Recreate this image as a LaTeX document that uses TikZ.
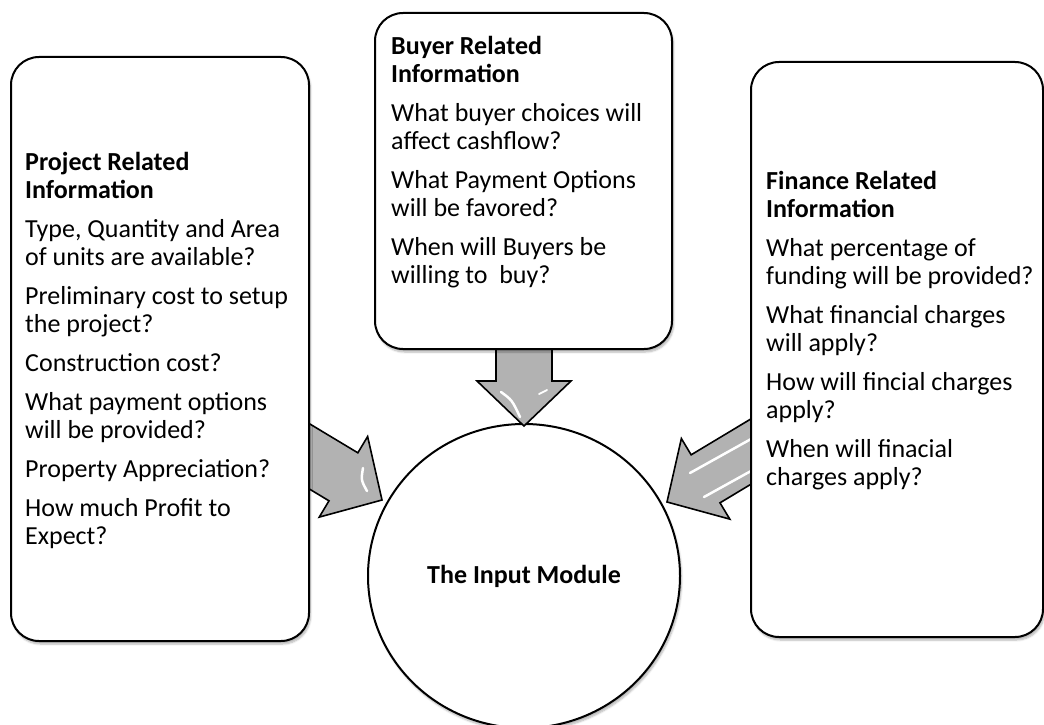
\documentclass[tikz,border=0pt]{standalone}
\usepackage{fontspec}
\setmainfont{Carlito}
\usetikzlibrary{shapes.geometric,shadows.blur}

\definecolor{arrowgray}{RGB}{178,178,178}
% fixed-height opener so the first baseline sits 20pt below the node top
\newcommand{\firstline}{\rule{0pt}{20pt}}

\begin{document}
\begin{tikzpicture}[x=1pt,y=-1pt,
  panel/.style={draw=black, line width=2pt, fill=white, rounded corners=28pt,
    inner sep=0pt, outer sep=0pt,
    blur shadow={shadow xshift=1.5pt, shadow yshift=-3pt, shadow blur steps=6, shadow opacity=30}},
  info/.style={anchor=north west, align=left, inner sep=0pt,
    font=\fontsize{26}{28}\selectfont},
  hub/.style={ellipse, draw=black, line width=2pt, fill=white, inner sep=0pt,
    minimum width=312pt, minimum height=304pt,
    font=\fontsize{26}{28}\selectfont\bfseries,
    blur shadow={shadow xshift=1.5pt, shadow yshift=-3pt, shadow blur steps=6, shadow opacity=30}},
  blockarrow/.style={draw=black, line width=1.6pt, fill=arrowgray, line join=miter},
  gleam/.style={draw=white, line width=2.5pt, line cap=round},
]
\useasboundingbox (0,0) rectangle (1044,725);

% central module
\node[hub] (input) at (524,576) {The Input Module};

% arrow tips resting on the module
\coordinate (ltip) at (382,500);
\coordinate (ttip) at (524,426);
\coordinate (rtip) at (667,502);

% block arrows (shafts run under the panels)
\begin{scope}[shift={(ltip)}, rotate=-31]
  \draw[blockarrow] (0,0) -- (-45,-47) -- (-45,-28) -- (-140,-28) -- (-140,28) -- (-45,28) -- (-45,47) -- cycle;
\end{scope}
\begin{scope}[shift={(ttip)}, rotate=-90]
  \draw[blockarrow] (0,0) -- (-45,-47) -- (-45,-28) -- (-110,-28) -- (-110,28) -- (-45,28) -- (-45,47) -- cycle;
\end{scope}
\begin{scope}[shift={(rtip)}, rotate=-149]
  \draw[blockarrow] (0,0) -- (-45,-47) -- (-45,-28) -- (-140,-28) -- (-140,28) -- (-45,28) -- (-45,47) -- cycle;
\end{scope}

% glossy highlights
\draw[gleam] (501,392) .. controls (512,400) .. (520,417);
\draw[gleam, line width=1.8pt] (539,394) -- (547,390);
\draw[gleam] (363,468) .. controls (361,480) .. (367,491);
\draw[gleam] (690,473) -- (760,434);
\draw[gleam] (704,497) -- (760,466);

% information panels
\node[panel, minimum width=298pt, minimum height=584pt] (project) at (160,349) {};
\node[panel, minimum width=297pt, minimum height=336pt] (buyer) at (523.5,181) {};
\node[panel, minimum width=292pt, minimum height=575pt] (finance) at (897,349.5) {};

\node[info] (projecttext) at (25,150) {%
  \firstline\textbf{Project Related}\\ \textbf{Information}\\[11pt]
  Type, Quantity and Area\\ of units are available?\\[11pt]
  Preliminary cost to setup\\ the project?\\[11pt]
  Construction cost?\\[11pt]
  What payment options\\ will be provided?\\[11pt]
  Property Appreciation?\\[11pt]
  How much Profit to\\ Expect?};

\node[info] (buyertext) at (391,34) {%
  \firstline\textbf{Buyer Related}\\ \textbf{Information}\\[11pt]
  What buyer choices will\\ affect cashflow?\\[11pt]
  What Payment Options\\ will be favored?\\[11pt]
  When will Buyers be\\ willing to\ \ buy?};

\node[info] (financetext) at (766,169) {%
  \firstline\textbf{Finance Related}\\ \textbf{Information}\\[11pt]
  What percentage of\\ funding will be provided?\\[11pt]
  What financial charges\\ will apply?\\[11pt]
  How will fincial charges\\ apply?\\[11pt]
  When will finacial\\ charges apply?};
\end{tikzpicture}
\end{document}
